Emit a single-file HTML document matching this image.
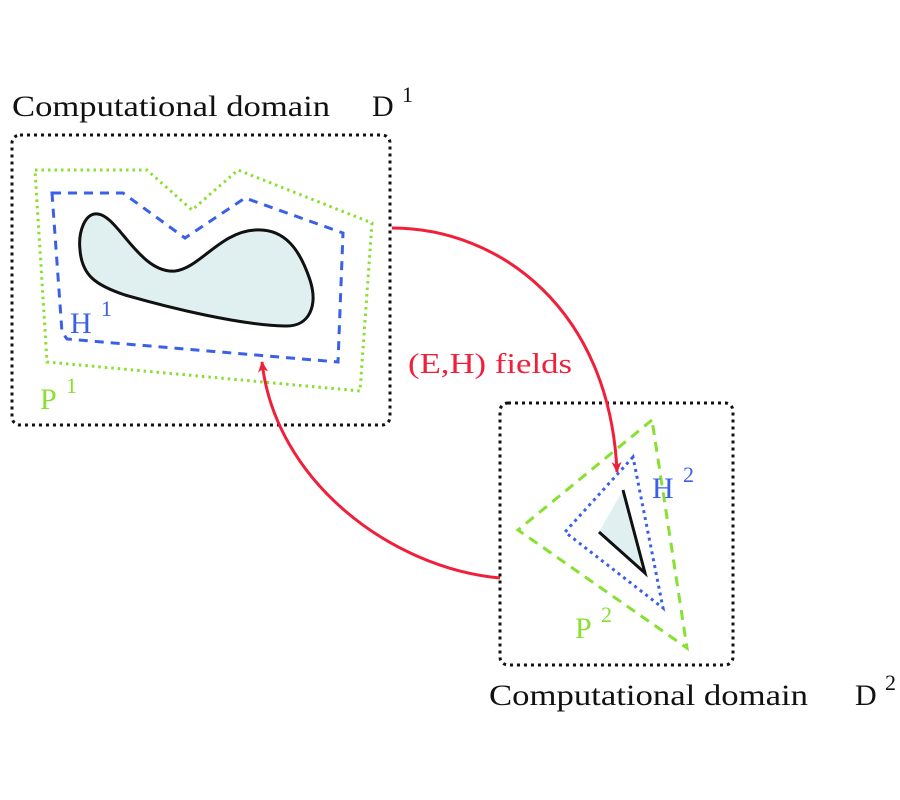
<!DOCTYPE html>
<html><head><meta charset="utf-8"><style>
html,body{margin:0;padding:0;background:#fff;}
svg{display:block;}
svg text{font-family:"Liberation Serif","Times New Roman",Times,serif;}
</style></head><body>
<svg width="900" height="800" viewBox="0 0 900 800" xmlns="http://www.w3.org/2000/svg" font-family="Liberation Serif, Times New Roman, serif">
<defs>
<marker id="ah" markerWidth="12" markerHeight="12" refX="10" refY="5" orient="auto" markerUnits="userSpaceOnUse">
<path d="M0,0 L11,5 L0,10 L3,5 Z" fill="#f0203a"/>
</marker>
</defs>
<rect x="12" y="135" width="378" height="290" rx="8" fill="none" stroke="#111" stroke-width="3" stroke-dasharray="3,4"/>
<polygon points="35,170 147,170 192,210 238,170 372,223 360,391 47,362" fill="none" stroke="#88e030" stroke-width="3" stroke-dasharray="2.5,4"/>
<polygon points="52,193 123,193 185,238 245,198 343,233 338,362 67,339 62,332" fill="none" stroke="#3a60e8" stroke-width="3" stroke-dasharray="9,7"/>
<path d="M98,214 C85,212 78,232 80,250 C82,275 95,285 125,295 C170,308 240,325 285,326 C310,327 318,305 310,280 C300,250 285,228 255,230 C220,232 200,268 175,271 C140,274 118,216 98,214 Z" fill="#e0f0f0" stroke="#111" stroke-width="3"/>
<text x="12" y="116" font-size="30" textLength="318" lengthAdjust="spacingAndGlyphs" fill="#111">Computational domain</text>
<text x="372" y="116" font-size="30" fill="#111">D</text>
<text x="402" y="102" font-size="22" fill="#111">1</text>
<text x="70" y="333" font-size="30" fill="#3a60e8">H</text>
<text x="101" y="316" font-size="22" fill="#3a60e8">1</text>
<text x="40" y="409" font-size="30" fill="#88e030">P</text>
<text x="66" y="393" font-size="22" fill="#88e030">1</text>
<rect x="500" y="403" width="233" height="262" rx="8" fill="none" stroke="#111" stroke-width="3" stroke-dasharray="3,4"/>
<polygon points="652,420 518,530 687,648" fill="none" stroke="#88e030" stroke-width="3" stroke-dasharray="10,7"/>
<polygon points="633,457 565,532 663,608" fill="none" stroke="#3a60e8" stroke-width="3" stroke-dasharray="3,4"/>
<polygon points="623,490 645,573 599,532" fill="#e0f0f0"/>
<polyline points="623,490 645,573 599,532" fill="none" stroke="#111" stroke-width="3"/>
<text x="652" y="498" font-size="30" fill="#3a60e8">H</text>
<text x="683" y="482" font-size="22" fill="#3a60e8">2</text>
<text x="575" y="638" font-size="30" fill="#88e030">P</text>
<text x="601" y="622" font-size="22" fill="#88e030">2</text>
<text x="489" y="705" font-size="30" textLength="319" lengthAdjust="spacingAndGlyphs" fill="#111">Computational domain</text>
<text x="855" y="705" font-size="30" fill="#111">D</text>
<text x="885" y="690" font-size="22" fill="#111">2</text>
<path d="M392,228 C500,228 610,310 617,472" fill="none" stroke="#f0203a" stroke-width="3" marker-end="url(#ah)"/>
<path d="M500,578 C390,568 275,480 262,362" fill="none" stroke="#f0203a" stroke-width="3" marker-end="url(#ah)"/>
<text x="408" y="373" font-size="28" textLength="164" lengthAdjust="spacingAndGlyphs" fill="#f0203a">(E,H) fields</text>
</svg>
</body></html>
